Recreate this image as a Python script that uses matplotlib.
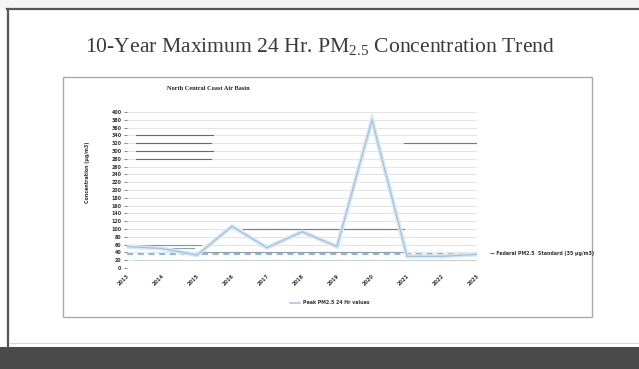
import matplotlib
matplotlib.use("Agg")
import matplotlib.pyplot as plt
from matplotlib.patches import Rectangle

W, H = 639, 369

# series
years = [2013, 2014, 2015, 2016, 2017, 2018, 2019, 2020, 2021, 2022, 2023]
peak_pm25 = [55, 50, 33, 107, 52, 93, 55, 380, 30, 30, 35]
federal_standard = 35
y_ticks = list(range(0, 401, 20))

# faint leftover series lines in the chart: (level, start year, end year, colour)
overlay_lines = [
    (340, 2013.25, 2015.45, '#6a6a6a'),
    (320, 2013.25, 2015.40, '#6a6a6a'),
    (300, 2013.25, 2015.45, '#6a6a6a'),
    (280, 2013.25, 2015.40, '#6a6a6a'),
    (60, 2013.0, 2015.1, '#7d97ad'),
    (52, 2013.3, 2014.9, '#8aa3b8'),
    (100, 2016.3, 2020.9, '#7a7a7a'),
    (320, 2020.9, 2023.0, '#7a7a7a'),
    (40, 2015.0, 2021.0, '#9a9a9a'),
    (20, 2013.2, 2023.0, '#d0d0d0'),
]

TITLE = '10-Year Maximum 24 Hr. PM$_{\\mathregular{2.5}}$ Concentration Trend'
CHART_TITLE = 'North Central Coast Air Basin'
Y_LABEL = 'Concentration (µg/m3)'
LEGEND_PEAK = 'Peak PM2.5 24 Hr values'
LEGEND_STD = '— Federal PM2.5  Standard (35 µg/m3)'


def box(l, t, r, b):
    return [l / W, 1 - b / H, (r - l) / W, (b - t) / H]


fig = plt.figure(figsize=(W / 100, H / 100), dpi=100)
fig.patch.set_facecolor('white')

# slide background in pixel coordinates
bg = fig.add_axes([0, 0, 1, 1])
bg.set_xlim(0, W)
bg.set_ylim(H, 0)
bg.axis('off')
bg.add_patch(Rectangle((0, 0), W, 9, color='#f4f4f4', lw=0))
bg.plot([7, W], [9, 9], color='#555555', lw=1.6)
bg.plot([7.5, 7.5], [9, 347], color='#555555', lw=1.6)
bg.plot([9, W], [343, 343], color='#d8d8d8', lw=0.8)
bg.add_patch(Rectangle((0, 346.5), W, H - 346.5, color='#4a4a4a', lw=0))
bg.add_patch(Rectangle((63, 77), 529, 240, facecolor='white', edgecolor='#ababab', lw=1.0))

bg.text(320, 47, TITLE, ha='center', va='center', fontsize=15.6,
        family='Liberation Serif', color='#3a3a3a')
bg.text(208, 88, CHART_TITLE, ha='center', va='center', fontsize=4.6,
        family='Liberation Serif', weight='bold', color='#222222')
bg.text(88, 172, Y_LABEL, ha='center', va='center', fontsize=3.4, rotation=90,
        weight='bold', color='#333333')
bg.text(490, 253, LEGEND_STD, ha='left', va='center', fontsize=3.4,
        weight='bold', color='#333333')
bg.plot([290, 300], [303, 303], color='#a9cbe6', lw=1.2)
bg.text(303, 303, LEGEND_PEAK, ha='left', va='center', fontsize=3.4,
        weight='bold', color='#333333')

# chart
ax = fig.add_axes(box(127, 112, 477, 268))
ax.set_facecolor('none')
ax.set_xlim(years[0], years[-1])
ax.set_ylim(0, 400)
for s in ax.spines.values():
    s.set_visible(False)
ax.set_yticks(y_ticks)
ax.set_yticklabels([str(v) for v in y_ticks], fontsize=3.4, weight='bold', color='#333333')
ax.set_xticks(years)
ax.set_xticklabels([str(y) for y in years], fontsize=3.6, weight='bold', rotation=45,
                   ha='right', rotation_mode='anchor', color='#333333')
ax.tick_params(axis='y', length=2, width=0.5, pad=2, colors='#555555', labelcolor='#333333')
ax.tick_params(axis='x', length=0, pad=4)
ax.grid(axis='y', color='#e4e4e4', lw=0.8)
ax.set_axisbelow(True)

for level, x0, x1, c in overlay_lines:
    ax.plot([x0, x1], [level, level], color=c, lw=0.8, zorder=2)

ax.axhline(federal_standard, color='#5aaae0', lw=1.1, ls=(0, (4, 3)), zorder=3)
ax.plot(years, peak_pm25, color='#d6e7f5', lw=3.0, zorder=4, solid_joinstyle='miter')
ax.plot(years, peak_pm25, color='#a3c2da', lw=0.9, zorder=5)

fig.savefig('out.png', dpi=100)
